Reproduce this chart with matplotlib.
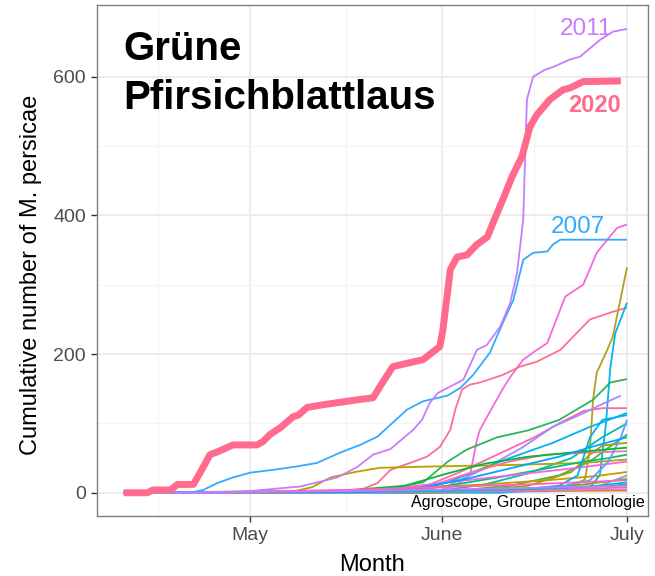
import matplotlib
matplotlib.use("Agg")
import matplotlib.pyplot as plt

plt.rcParams["font.family"] = ["Liberation Sans", "DejaVu Sans"]

# x values are days counted from 1 April
month_ticks = [30, 61, 91]
month_labels = ["May", "June", "July"]
mid_month = [15, 45.5, 76]

days_2020 = [9.5, 13.3, 14.3, 17.1, 18.2, 20.8, 21.9, 23.5, 24.7, 27.2, 31.1, 32.1, 33.2,
             34.9, 37.0, 37.8, 39.2, 41.8, 45.0, 47.3, 49.9, 51.0, 51.5, 53.1, 58.0, 60.7,
             61.2, 62.4, 63.5, 65.1, 66.7, 68.4, 69.3, 70.9, 72.4, 74.0, 75.3, 76.4, 78.5,
             80.6, 81.8, 83.9, 90.0]
vals_2020 = [0, 0, 4, 4, 12, 12, 29, 55, 59, 69, 69, 74, 84, 94, 110, 112, 123, 127, 131,
             134, 137, 153, 160, 182, 192, 211, 235, 322, 340, 343, 358, 369, 389, 423, 456,
             485, 528, 545, 567, 581, 584, 593, 594]

days_2011 = [9.5, 26.8, 38.1, 44.1, 47.3, 49.9, 52.7, 56.4, 57.8, 59.1, 60.4, 64.5, 66.7,
             68.3, 70.5, 72.1, 73.2, 74.2, 74.8, 75.8, 77.7, 79.0, 81.8, 83.4, 86.6, 88.7, 91.0]
vals_2011 = [0, 0, 9, 22, 37, 55, 63, 91, 105, 130, 144, 163, 206, 213, 240, 274, 317, 394,
             567, 600, 610, 614, 625, 629, 653, 665, 669]

days_2007 = [9.5, 20.3, 22.4, 24.7, 27.2, 30.0, 33.7, 37.6, 40.8, 44.6, 47.8, 50.6, 52.7,
             55.4, 58.0, 61.9, 64.0, 66.1, 68.8, 70.9, 72.6, 74.2, 75.8, 78.1, 79.0, 80.2, 91.0]
vals_2007 = [0, 0, 4, 14, 22, 29, 33, 38, 43, 58, 69, 81, 98, 120, 132, 140, 151, 170, 202,
             245, 278, 336, 346, 348, 358, 365, 365]

# the other years (ggplot hue colours)
other_days = [
    [9.5, 59.1, 63.2, 65.6, 66.7, 67.2, 69.0, 70.9, 72.1, 74.2, 76.4, 78.1, 81.0, 83.9, 86.1, 87.8, 89.4, 91],
    [9.5, 42.9, 47.8, 50.6, 52.7, 55.9, 58.6, 60.7, 62.4, 63.2, 64.3, 65.6, 67.2, 70.9, 73.7, 76.4, 80.2, 85.0, 88.7, 91],
    [9.5, 59.1, 80.2, 84.2, 85.0, 85.5, 86.1, 87.8, 88.7, 91],
    [9.5, 70.5, 85.0, 86.6, 87.6, 88.3, 89.1, 91],
    [9.5, 50, 58, 62, 65, 70, 75, 80, 85.5, 88.3, 91],
    [9.5, 50, 58, 64, 70, 76, 80, 84, 87, 91],
    [9.5, 55, 62, 68, 74, 79, 84, 87, 90],
    [9.5, 56, 62, 67, 72, 79, 85, 91],
    [9.5, 60, 68, 75, 82, 87, 91],
    [9.5, 62, 72, 80, 85, 88, 91],
    [9.5, 65, 75, 82, 85, 87, 91],
    [9.5, 36, 40, 43, 47, 51, 60, 72, 84, 91],
    [9.5, 50, 60, 66, 72, 78, 85, 91],
    [9.5, 50, 62, 70, 78, 84, 88, 91],
    [9.5, 45, 55, 65, 75, 83, 91],
    [9.5, 40, 55, 68, 78, 86, 91],
    [9.5, 60, 75, 84, 91],
    [9.5, 70, 80, 85, 88, 90, 91],
    [9.5, 72, 80, 83, 85, 87, 91],
    [9.5, 65, 82, 91],
    [9.5, 78, 86, 89, 91],
    [9.5, 91],
    [9.5, 55, 80, 91],
    [9.5, 40, 70, 91],
    [9.5, 50, 75, 86, 91],
    [9.5, 45, 55, 62, 68, 75, 82, 91],
    [9.5, 50, 58, 65, 72, 80, 86, 91],
    [9.5, 25, 45, 60, 75, 91],
    [9.5, 30, 50, 70, 91],
]
other_vals = [
    [0, 0, 10, 26, 76, 91, 120, 150, 167, 192, 206, 216, 283, 300, 346, 365, 382, 387],
    [0, 0, 4, 14, 33, 43, 52, 66, 91, 120, 149, 156, 159, 170, 182, 189, 206, 250, 261, 267],
    [0, 0, 4, 19, 62, 134, 173, 206, 225, 325],
    [0, 0, 8, 25, 100, 180, 230, 274],
    [0, 2, 15, 45, 62, 80, 90, 105, 134, 159, 164],
    [0, 0, 8, 30, 55, 80, 100, 118, 122, 122],
    [0, 0, 10, 35, 65, 95, 115, 128, 140],
    [0, 2, 15, 33, 50, 72, 95, 115],
    [0, 2, 12, 28, 50, 80, 100],
    [0, 2, 10, 25, 45, 65, 84],
    [0, 2, 10, 30, 55, 68, 72],
    [0, 0, 8, 22, 30, 36, 38, 40, 43, 48],
    [0, 2, 12, 30, 45, 55, 58, 60],
    [0, 2, 10, 22, 35, 45, 50, 55],
    [0, 3, 8, 18, 28, 36, 45],
    [0, 2, 6, 12, 18, 24, 30],
    [0, 2, 6, 12, 20],
    [0, 3, 8, 18, 45, 80, 105],
    [0, 3, 10, 25, 80, 105, 112],
    [0, 2, 6, 12],
    [0, 2, 8, 18, 25],
    [0, 3],
    [0, 1, 4, 8],
    [0, 1, 3, 5],
    [0, 1, 5, 10, 15],
    [0, 3, 10, 28, 42, 52, 58, 65],
    [0, 2, 8, 20, 35, 52, 68, 80],
    [0, 1, 4, 8, 12, 18],
    [0, 1, 3, 6, 10],
]
other_colors = [
    "#F967DB", "#FB7090", "#B59F1E", "#00B4EF", "#2DB55D", "#FF65B0", "#A58AFF",
    "#00B3F0", "#00BCB0", "#45B845", "#A5A000", "#B8A000", "#FF6B9B", "#00BF7D",
    "#F564E3", "#C49A00", "#7CAE00", "#619CFF", "#00B0F6", "#00C0B8", "#8B93FF",
    "#E38900", "#F8766D", "#DB72FB", "#00BFC4", "#00BA38", "#00A5FF", "#FF62BC",
    "#C77CFF",
]

color_2020 = "#FF6A8D"
color_2011 = "#C77CFF"
color_2007 = "#33AAFF"

fig = plt.figure(figsize=(6.55, 5.76), dpi=100)
ax = fig.add_axes([0.1481, 0.1042, 0.8412, 0.8871])

for d, v, c in zip(other_days, other_vals, other_colors):
    ax.plot(d, v, color=c, lw=1.3, solid_capstyle="butt")
ax.plot(days_2007, vals_2007, color=color_2007, lw=1.3, solid_capstyle="butt")
ax.plot(days_2011, vals_2011, color=color_2011, lw=1.3, solid_capstyle="butt")
ax.plot(days_2020, vals_2020, color=color_2020, lw=5, solid_capstyle="butt",
        solid_joinstyle="round")

ax.text(84.3, 660, "2011", color=color_2011, fontsize=17.5, ha="center", va="baseline")
ax.text(85.8, 549, "2020", color=color_2020, fontsize=17, fontweight="bold",
        ha="center", va="baseline")
ax.text(83.1, 375, "2007", color=color_2007, fontsize=17.5, ha="center", va="baseline")

fig.text(123 / 655, 1 - 60 / 576, "Grüne", fontsize=29, fontweight="bold",
         ha="left", va="baseline")
fig.text(123 / 655, 1 - 109 / 576, "Pfirsichblattlaus", fontsize=29, fontweight="bold",
         ha="left", va="baseline")
fig.text(645 / 655, 1 - 507 / 576, "Agroscope, Groupe Entomologie", fontsize=11.6,
         ha="right", va="baseline")

ax.set_xlim(5.2, 94.4)
ax.set_ylim(-33.5, 703.5)
ax.set_xticks(month_ticks)
ax.set_xticklabels(month_labels)
ax.set_xticks(mid_month, minor=True)
ax.set_yticks([0, 200, 400, 600])
ax.set_yticks([100, 300, 500], minor=True)
ax.grid(which="major", color="#EBEBEB", lw=1.3)
ax.grid(which="minor", color="#F4F4F4", lw=0.8)
ax.set_axisbelow(True)
ax.tick_params(which="major", direction="out", length=4, width=1, color="#333333",
               labelsize=14, labelcolor="#4D4D4D", pad=4)
ax.tick_params(which="minor", length=0)
for s in ax.spines.values():
    s.set_color("#7F7F7F")
    s.set_linewidth(1.0)

ax.set_xlabel("Month", fontsize=17, labelpad=7)
ax.set_ylabel("Cumulative number of M. persicae", fontsize=17)
ax.yaxis.set_label_coords(-0.099, 0.472)

fig.savefig("out.png", dpi=100)
